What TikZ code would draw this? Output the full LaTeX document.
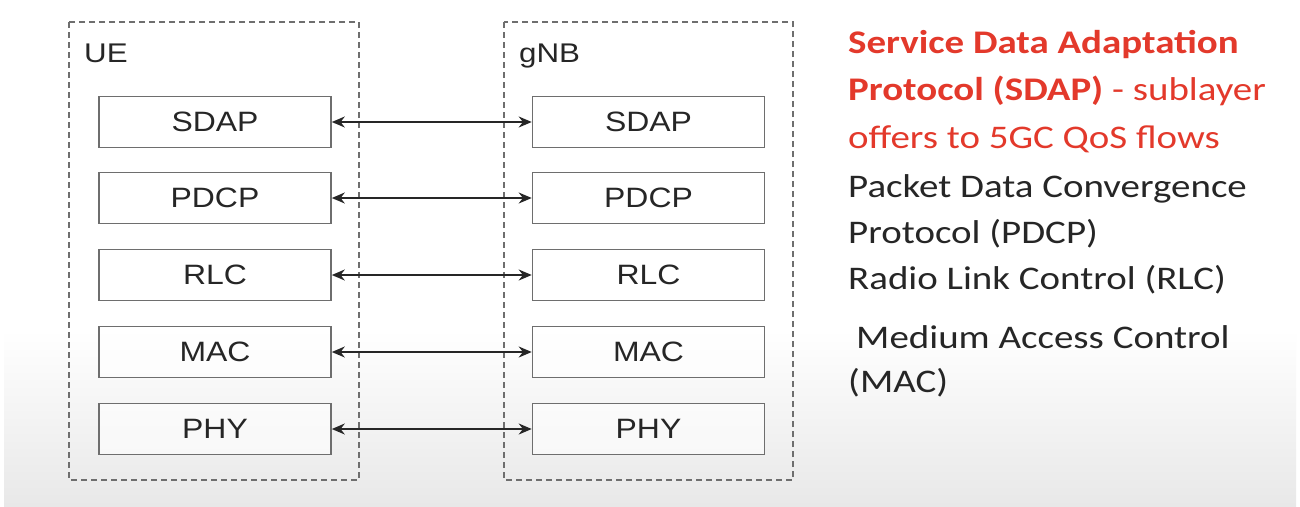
\documentclass[tikz,border=0pt]{standalone}
\usepackage{fontspec}
\usepackage{graphicx}
\setmainfont{Liberation Sans}
\newfontfamily\calfont{Carlito}
\usetikzlibrary{arrows.meta}
\definecolor{sdapred}{HTML}{E3392B}
\definecolor{txtgray}{HTML}{262626}
\definecolor{boxline}{HTML}{6E6E6E}
% slightly widened lettering
\newcommand{\widetext}[2]{\scalebox{#1}[1]{#2}}
\tikzset{
  entity/.style={draw=boxline, line width=1.3pt, dash pattern=on 6pt off 4pt},
  layer/.style={draw=boxline, line width=1.6pt, fill=white, fill opacity=0.6, text opacity=1,
    minimum width=232pt, minimum height=51pt, inner sep=0pt,
    font=\fontsize{28}{30}\selectfont, text=txtgray},
  peer/.style={line width=1.8pt, draw=black!85, {Stealth[length=13pt,width=11pt]}-{Stealth[length=13pt,width=11pt]}},
  ename/.style={font=\fontsize{27}{30}\selectfont, text=txtgray, anchor=base west, inner sep=0pt},
  note/.style={font=\calfont\fontsize{33}{40}\selectfont, anchor=base west, inner sep=0pt},
}
\begin{document}
\begin{tikzpicture}[x=1pt, y=-1pt]
  % background
  \useasboundingbox (0,0) rectangle (1300,506);
  \fill[white] (0,0) rectangle (1300,506);
  \shade[top color=white, bottom color=black!9] (4,330) rectangle (1296,506);

  % protocol entities
  \draw[entity] (69,22) rectangle (359,480);
  \draw[entity] (504,22) rectangle (793,480);
  \node[ename] (ue) at (84,62) {\widetext{1.16}{UE}};
  \node[ename] (gnb) at (519,62) {\widetext{1.16}{gNB}};

  % layer stacks
  \foreach \name/\y in {SDAP/122, PDCP/198, RLC/275, MAC/352, PHY/429} {
    \node[layer] (u\name) at (215,\y) {\widetext{1.14}{\name}};
    \node[layer] (g\name) at (648.5,\y) {\widetext{1.14}{\name}};
    \draw[peer] (u\name.east) -- (g\name.west);
  }

  % descriptions
  \node[note, text=sdapred] (l1) at (848,53) {\widetext{1.18}{\bfseries Service Data Adaptation}};
  \node[note, text=sdapred] (l2) at (848,100) {\widetext{1.18}{\textbf{Protocol (SDAP)} - sublayer}};
  \node[note, text=sdapred] (l3) at (848,148) {\widetext{1.18}{offers to 5GC QoS flows}};
  \node[note, text=txtgray] (l4) at (848,197) {\widetext{1.18}{Packet Data Convergence}};
  \node[note, text=txtgray] (l5) at (848,243) {\widetext{1.18}{Protocol (PDCP)}};
  \node[note, text=txtgray] (l6) at (848,289) {\widetext{1.18}{Radio Link Control (RLC)}};
  \node[note, text=txtgray] (l7) at (856,348) {\widetext{1.18}{Medium Access Control}};
  \node[note, text=txtgray] (l8) at (848,392) {\widetext{1.18}{(MAC)}};
\end{tikzpicture}
\end{document}
